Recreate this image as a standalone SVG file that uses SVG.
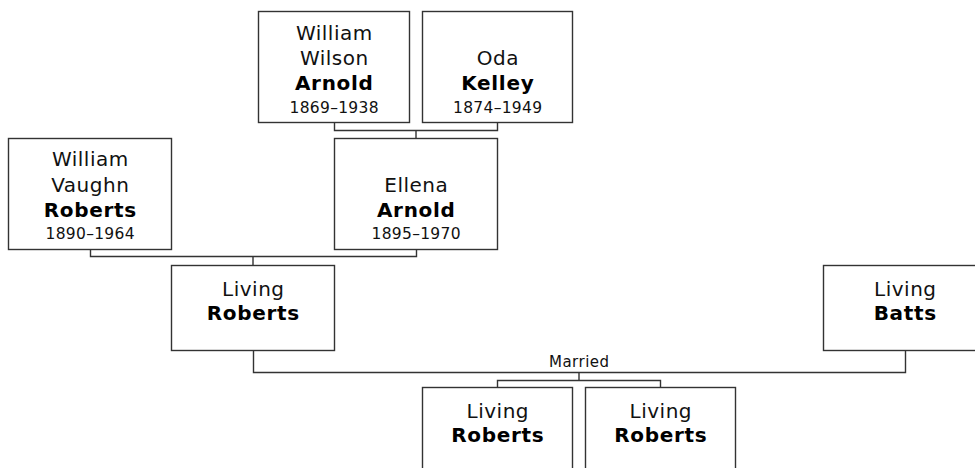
<svg xmlns="http://www.w3.org/2000/svg" width="975" height="468" viewBox="0 0 975 468">
<style>
.box{fill:#fff;stroke:#333;stroke-width:1.4}
.ln{fill:none;stroke:#333;stroke-width:1.4}
text{font-family:"DejaVu Sans",Verdana,sans-serif;text-anchor:middle;fill:#111}
.n{font-size:20px;letter-spacing:0.5px}
.s{font-size:20px;font-weight:bold;letter-spacing:0.7px;fill:#000}
.d{font-size:15.5px;letter-spacing:0.3px}
.m{font-size:15px;letter-spacing:0.5px}
</style>
<rect width="975" height="468" fill="#fff"/>
<g id="connectors">
<path class="ln" d="M334.5,122.5 V130.5 H497.5 V122.5 M416,130.5 V138.5"/>
<path class="ln" d="M90.5,249.5 V256.5 H416.5 V249.5 M253,256.5 V265.5"/>
<path class="ln" d="M253.5,350.5 V372.5 H905.5 V350.5 M579,372.5 V380.5 M497.5,387.5 V380.5 H660.5 V387.5"/>
<text class="m" x="579.3" y="367">Married</text>
</g>
<g id="william-wilson-arnold">
<rect class="box" x="258.5" y="11.5" width="151" height="111"/>
<text class="n" x="334.3" y="39.7">William</text>
<text class="n" x="334.3" y="65.3">Wilson</text>
<text class="s" x="334.3" y="90">Arnold</text>
<text class="d" x="334.2" y="112.7">1869–1938</text>
</g>
<g id="oda-kelley">
<rect class="box" x="422.5" y="11.5" width="150" height="111"/>
<text class="n" x="497.8" y="65.3">Oda</text>
<text class="s" x="497.8" y="90">Kelley</text>
<text class="d" x="497.7" y="112.7">1874–1949</text>
</g>
<g id="william-vaughn-roberts">
<rect class="box" x="8.5" y="138.5" width="163" height="111"/>
<text class="n" x="90.3" y="166.2">William</text>
<text class="n" x="90.3" y="191.8">Vaughn</text>
<text class="s" x="90.3" y="216.5">Roberts</text>
<text class="d" x="90.2" y="239.2">1890–1964</text>
</g>
<g id="ellena-arnold">
<rect class="box" x="334.5" y="138.5" width="163" height="111"/>
<text class="n" x="416.3" y="191.8">Ellena</text>
<text class="s" x="416.3" y="216.5">Arnold</text>
<text class="d" x="416.2" y="239.2">1895–1970</text>
</g>
<g id="living-roberts">
<rect class="box" x="171.5" y="265.5" width="163" height="85"/>
<text class="n" x="253.3" y="296">Living</text>
<text class="s" x="253.3" y="320">Roberts</text>
</g>
<g id="living-batts">
<rect class="box" x="823.5" y="265.5" width="163" height="85"/>
<text class="n" x="905.3" y="296">Living</text>
<text class="s" x="905.3" y="320">Batts</text>
</g>
<g id="child-1">
<rect class="box" x="422.5" y="387.5" width="150" height="85"/>
<text class="n" x="497.8" y="418">Living</text>
<text class="s" x="497.8" y="442">Roberts</text>
</g>
<g id="child-2">
<rect class="box" x="585.5" y="387.5" width="150" height="85"/>
<text class="n" x="660.8" y="418">Living</text>
<text class="s" x="660.8" y="442">Roberts</text>
</g>
</svg>
